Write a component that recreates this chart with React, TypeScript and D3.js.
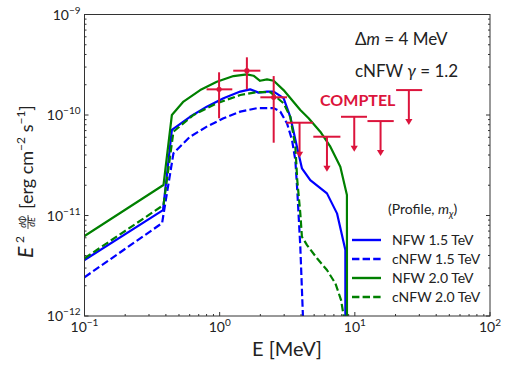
import React from "react";
import * as d3 from "d3";

// energies in MeV, fluxes E^2 dPhi/dE in erg cm^-2 s^-1
const nfw15E = [0.1, 0.381, 0.443, 0.604, 0.803, 1.067, 1.42, 1.68, 1.94, 2.24, 2.51, 2.97, 3.33, 3.73, 4.06, 4.68, 6.22, 7.38, 8.51, 8.52];
const nfw15F = [3.61e-12, 1.13e-11, 7.1e-11, 9.6e-11, 1.21e-10, 1.47e-10, 1.71e-10, 1.8e-10, 1.67e-10, 1.71e-10, 1.71e-10, 1.47e-10, 9.6e-11, 4.84e-11, 2.95e-11, 2.25e-11, 1.66e-11, 1.05e-11, 4.54e-12, 1e-13];

const cnfw15E = [0.1, 0.375, 0.455, 0.604, 0.803, 1.067, 1.42, 1.89, 2.51, 2.81, 3.15, 3.43, 3.63, 3.75, 3.95, 4.13, 4.2];
const cnfw15F = [2.43e-12, 8.4e-12, 4.16e-11, 6.08e-11, 7.66e-11, 9.27e-11, 1.08e-10, 1.17e-10, 1.17e-10, 1.08e-10, 8.26e-11, 5.64e-11, 3.56e-11, 1.79e-11, 4.9e-12, 1e-12, 1e-13];

const nfw20E = [0.1, 0.384, 0.443, 0.54, 0.718, 0.953, 1.265, 1.59, 1.78, 1.99, 2.24, 2.51, 2.97, 3.95, 4.55, 5.55, 6.59, 7.81, 8.74, 8.75];
const nfw20F = [6.25e-12, 2.01e-11, 1.0e-10, 1.36e-10, 1.77e-10, 2.14e-10, 2.44e-10, 2.54e-10, 2.46e-10, 2.19e-10, 2.26e-10, 2.19e-10, 1.77e-10, 1.12e-10, 9.27e-11, 6.82e-11, 4.84e-11, 3.06e-11, 1.6e-11, 1e-13];

const cnfw20E = [0.1, 0.384, 0.455, 0.64, 0.953, 1.42, 1.89, 2.37, 2.97, 3.33, 3.63, 3.75, 3.95, 4.06, 4.43, 5.25, 6.22, 7.18, 7.91, 8.27, 8.4];
const cnfw20F = [3.75e-12, 1.27e-11, 6.82e-11, 1.0e-10, 1.31e-10, 1.58e-10, 1.69e-10, 1.69e-10, 1.31e-10, 9.6e-11, 4.84e-11, 2.25e-11, 1.05e-11, 6.15e-12, 5.08e-12, 3.75e-12, 2.87e-12, 2.11e-12, 1.44e-12, 1e-12, 1e-13];

// COMPTEL measurements
const compE = [0.99, 1.59, 2.51];
const compElo = [0.8, 1.26, 2.0];
const compEhi = [1.24, 2.0, 3.15];
const compF = [1.8e-10, 2.76e-10, 1.5e-10];
const compFlo = [9.27e-11, 1.8e-10, 5.3e-11];
const compFhi = [2.66e-10, 3.75e-10, 2.44e-10];

// COMPTEL upper limits
const ulE = [3.9, 6.22, 9.9, 15.5, 25.1];
const ulElo = [3.11, 4.93, 7.9, 12.4, 20.2];
const ulEhi = [4.9, 7.82, 12.3, 19.4, 31.5];
const ulF = [8.38e-11, 6.08e-11, 9.6e-11, 8.7e-11, 1.77e-10];

const xTicks = [0.1, 1, 10, 100];
const xTickExp = ["−1", "0", "1", "2"];
const yTicks = [1e-12, 1e-11, 1e-10, 1e-9];
const yTickExp = ["−12", "−11", "−10", "−9"];

const series = [
  { name: "NFW 1.5 TeV", E: nfw15E, F: nfw15F, color: "#0000ff", dash: "" },
  { name: "cNFW 1.5 TeV", E: cnfw15E, F: cnfw15F, color: "#0000ff", dash: "7.4,3.2" },
  { name: "NFW 2.0 TeV", E: nfw20E, F: nfw20F, color: "#008000", dash: "" },
  { name: "cNFW 2.0 TeV", E: cnfw20E, F: cnfw20F, color: "#008000", dash: "7.4,3.2" },
];

const L = 84.5, R = 490, T = 14.5, B = 316;
const red = "#dc143c";
const font = "Lato, 'Open Sans', sans-serif";

export default function App() {
  const x = d3.scaleLog().domain([0.1, 100]).range([L, R]);
  const y = d3.scaleLog().domain([1e-12, 1e-9]).range([B, T]);

  const minorX: number[] = [];
  [0.1, 1, 10].forEach((d) => { for (let k = 2; k <= 9; k++) minorX.push(d * k); });
  const minorY: number[] = [];
  [1e-12, 1e-11, 1e-10].forEach((d) => { for (let k = 2; k <= 9; k++) minorY.push(d * k); });

  const line = d3.line<[number, number]>().x((d) => x(d[0])).y((d) => y(d[1]));
  const arrowLen = 35;

  return (
    <svg width={511} height={368} style={{ position: "absolute", left: 0, top: 0, background: "#fff" }} fontFamily={font}>
      <defs>
        <clipPath id="plot"><rect x={L} y={T} width={R - L} height={B - T} /></clipPath>
      </defs>

      <g clipPath="url(#plot)" fill="none" strokeWidth={2.2} strokeLinejoin="round">
        {series.map((s) => (
          <path key={s.name} d={line(s.E.map((e, i) => [e, s.F[i]]))!} stroke={s.color} strokeDasharray={s.dash} />
        ))}
      </g>

      {/* COMPTEL points */}
      <g stroke={red} strokeWidth={2} fill={red}>
        {compE.map((e, i) => (
          <g key={i}>
            <line x1={x(compElo[i])} x2={x(compEhi[i])} y1={y(compF[i])} y2={y(compF[i])} />
            <line x1={x(e)} x2={x(e)} y1={y(compFlo[i])} y2={y(compFhi[i])} />
            <circle cx={x(e)} cy={y(compF[i])} r={2.6} stroke="none" />
          </g>
        ))}
        {ulE.map((e, i) => {
          const cx = x(e), cy = y(ulF[i]);
          return (
            <g key={"u" + i}>
              <line x1={x(ulElo[i])} x2={x(ulEhi[i])} y1={cy} y2={cy} />
              <line x1={cx} x2={cx} y1={cy} y2={cy + arrowLen - 4} />
              <path d={`M${cx - 3.6},${cy + arrowLen - 6}L${cx + 3.6},${cy + arrowLen - 6}L${cx},${cy + arrowLen}Z`} stroke="none" />
            </g>
          );
        })}
      </g>

      {/* frame */}
      <rect x={L} y={T} width={R - L} height={B - T} fill="none" stroke="#333" strokeWidth={1} />

      {/* ticks */}
      <g stroke="#333" strokeWidth={1}>
        {xTicks.map((t) => <line key={"xt" + t} x1={x(t)} x2={x(t)} y1={B} y2={B - 4} />)}
        {minorX.map((t) => <line key={"xm" + t} x1={x(t)} x2={x(t)} y1={B} y2={B - 2} />)}
        {yTicks.map((t) => (
          <g key={"yt" + t}>
            <line x1={L} x2={L + 4} y1={y(t)} y2={y(t)} />
            <line x1={R} x2={R - 4} y1={y(t)} y2={y(t)} />
          </g>
        ))}
        {minorY.map((t) => (
          <g key={"ym" + t}>
            <line x1={L} x2={L + 2} y1={y(t)} y2={y(t)} />
            <line x1={R} x2={R - 2} y1={y(t)} y2={y(t)} />
          </g>
        ))}
      </g>

      {/* tick labels */}
      <g fontSize={14} fill="#222">
        {xTicks.map((t, i) => (
          <text key={"xl" + t} x={x(t)} y={B + 16} textAnchor="middle">
            10<tspan fontSize={10} dy={-6}>{xTickExp[i]}</tspan>
          </text>
        ))}
        {yTicks.map((t, i) => (
          <text key={"yl" + t} x={L - 4} y={y(t) + 5} textAnchor="end">
            10<tspan fontSize={10} dy={-6}>{yTickExp[i]}</tspan>
          </text>
        ))}
      </g>

      {/* axis labels */}
      <text x={287} y={356} textAnchor="middle" fontSize={20} fill="#222">E [MeV]</text>
      <g transform="rotate(-90)" fill="#222">
        <text x={-258} y={33} fontSize={21} fontStyle="italic">E</text>
        <text x={-243} y={24} fontSize={12}>2</text>
        <text x={-222} y={26} fontSize={9} fontStyle="italic" textAnchor="middle">dΦ</text>
        <line x1={-229} x2={-215} y1={28} y2={28} stroke="#222" strokeWidth={0.8} />
        <text x={-222} y={35} fontSize={9} fontStyle="italic" textAnchor="middle">dE</text>
        <text x={-209} y={33} fontSize={18}>
          [erg cm<tspan fontSize={12} dy={-8}>−2</tspan>
          <tspan dy={8}> s</tspan>
          <tspan fontSize={12} dy={-8}>−1</tspan>
          <tspan dy={8}>]</tspan>
        </text>
      </g>

      {/* annotations */}
      <text x={355} y={45} fontSize={17} fill="#222">
        Δ<tspan fontStyle="italic">m</tspan> = 4 MeV
      </text>
      <text x={355} y={77} fontSize={17} fill="#222">
        cNFW <tspan fontStyle="italic">γ</tspan> = 1.2
      </text>
      <text x={320} y={106} fontSize={16} fontWeight="bold" fill={red}>COMPTEL</text>

      {/* legend */}
      <text x={388} y={214} fontSize={14} fill="#222">
        (Profile, <tspan fontStyle="italic">m</tspan><tspan fontSize={10} dy={3} fontStyle="italic">χ</tspan><tspan dy={-3}>)</tspan>
      </text>
      {series.map((s, i) => {
        const ly = 240 + i * 19;
        return (
          <g key={"lg" + s.name}>
            <line x1={352} x2={381} y1={ly} y2={ly} stroke={s.color} strokeWidth={2.4} strokeDasharray={s.dash} />
            <text x={392} y={ly + 5} fontSize={14} fill="#222">{s.name}</text>
          </g>
        );
      })}
    </svg>
  );
}
